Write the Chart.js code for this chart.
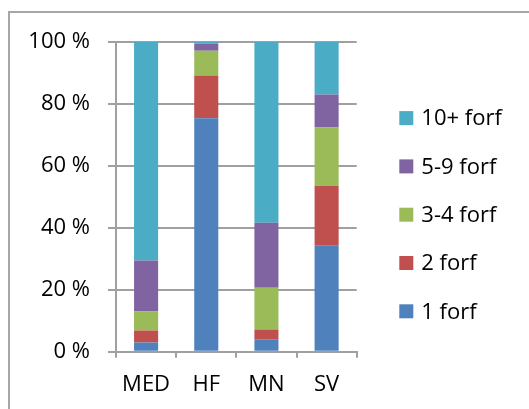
<!DOCTYPE html>
<html>
<head>
<meta charset="utf-8">
<script src="https://cdn.jsdelivr.net/npm/chart.js@4"></script>
<style>
  html, body { margin: 0; padding: 0; background: #fff; overflow: hidden; }
  #frame {
    position: absolute; left: 8px; top: 11px;
    width: 560px; height: 440px;
    border: 2px solid #a6a6a6;
  }
  #wrap { position: absolute; left: 0; top: 0; width: 529px; height: 409px; }
</style>
</head>
<body>
<div id="frame"></div>
<div id="wrap"><canvas id="chart" width="529" height="409"></canvas></div>
<script>
const categories = ["MED", "HF", "MN", "SV"]
const seriesNames = ["1 forf", "2 forf", "3-4 forf", "5-9 forf", "10+ forf"]
const forf1 = [3.0, 75.3, 4.0, 34.2]
const forf2 = [3.8, 13.8, 3.2, 19.3]
const forf34 = [6.2, 8.0, 13.4, 18.8]
const forf59 = [16.4, 2.3, 21.0, 10.7]
const forf10 = [70.6, 0.6, 58.4, 17.0]
const yTicks = [0, 20, 40, 60, 80, 100]

const colors = ["#4f81bd", "#c0504d", "#9bbb59", "#8064a2", "#4bacc6"]
const gridColor = "#a0a0a0"
const font = { family: "'Open Sans', sans-serif", size: 22 }

const values = [forf1, forf2, forf34, forf59, forf10]

// legend on the right, drawn by hand so it can sit apart from the plot
const sideLegend = {
  id: "sideLegend",
  afterDraw(chart) {
    const ctx = chart.ctx
    const area = chart.chartArea
    const items = chart.data.datasets.slice().reverse()
    const step = 48.3
    const mid = (area.top + area.bottom) / 2 + 18
    const y0 = mid - step * (items.length - 1) / 2
    const x = area.right + 42.6

    ctx.save()
    ctx.textAlign = "left"
    ctx.textBaseline = "middle"
    ctx.fillStyle = "#000"
    ctx.font = `${font.size}px ${font.family}`
    items.forEach((ds, i) => {
      const y = y0 + i * step
      ctx.fillStyle = ds.backgroundColor
      ctx.fillRect(x, y - 7, 14, 14)
      ctx.fillStyle = "#000"
      ctx.fillText(ds.label, x + 22, y + 1)
    })
    ctx.restore()
  }
}

const ctx = document.getElementById("chart").getContext("2d")

new Chart(ctx, {
  type: "bar",
  data: {
    labels: categories,
    datasets: values.map((data, i) => ({
      label: seriesNames[i],
      data: data,
      backgroundColor: colors[i],
      borderWidth: 0,
      barPercentage: 0.4,
      categoryPercentage: 1
    }))
  },
  options: {
    responsive: false,
    animation: false,
    layout: {
      padding: { left: 10, top: 41.7, right: 172.3, bottom: 10.3 }
    },
    plugins: {
      legend: { display: false },
      tooltip: { enabled: false }
    },
    scales: {
      x: {
        stacked: true,
        grid: {
          drawOnChartArea: false,
          drawTicks: true,
          tickLength: 6,
          color: gridColor,
          lineWidth: 2
        },
        border: { color: gridColor, width: 2 },
        ticks: { color: "#000", font: font, padding: 14 },
        afterFit: (scale) => { scale.height = 47 }
      },
      y: {
        stacked: true,
        min: 0,
        max: 100,
        grid: {
          color: gridColor,
          lineWidth: 2,
          tickLength: 8
        },
        border: { color: gridColor, width: 2 },
        ticks: {
          color: "#000",
          font: font,
          padding: 18,
          stepSize: 20,
          callback: (value) => yTicks.includes(value) ? `${value} %` : ""
        },
        afterFit: (scale) => { scale.width = 106 }
      }
    }
  },
  plugins: [sideLegend]
})
</script>
</body>
</html>
